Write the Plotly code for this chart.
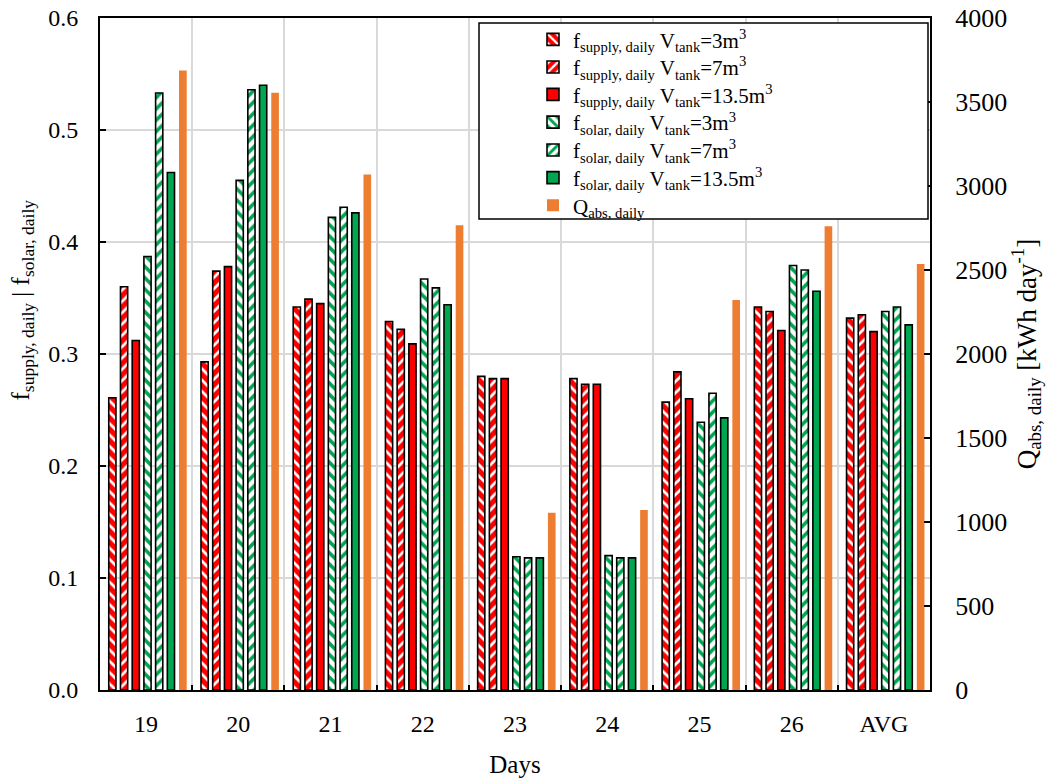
import plotly.graph_objects as go

days = ["19", "20", "21", "22", "23", "24", "25", "26", "AVG"]

f_supply_3 = [0.261, 0.293, 0.342, 0.329, 0.280, 0.278, 0.257, 0.342, 0.332]
f_supply_7 = [0.360, 0.374, 0.349, 0.322, 0.278, 0.273, 0.284, 0.338, 0.335]
f_supply_13 = [0.312, 0.378, 0.345, 0.309, 0.278, 0.273, 0.260, 0.321, 0.320]
f_solar_3 = [0.387, 0.455, 0.422, 0.367, 0.119, 0.120, 0.239, 0.379, 0.338]
f_solar_7 = [0.533, 0.536, 0.431, 0.359, 0.118, 0.118, 0.265, 0.375, 0.342]
f_solar_13 = [0.462, 0.540, 0.426, 0.344, 0.118, 0.118, 0.243, 0.356, 0.326]
q_abs = [3688, 3555, 3068, 2766, 1055, 1071, 2321, 2760, 2536]

names = [
    "f<sub>supply, daily</sub> V<sub>tank</sub>=3m<sup>3</sup>",
    "f<sub>supply, daily</sub> V<sub>tank</sub>=7m<sup>3</sup>",
    "f<sub>supply, daily</sub> V<sub>tank</sub>=13.5m<sup>3</sup>",
    "f<sub>solar, daily</sub> V<sub>tank</sub>=3m<sup>3</sup>",
    "f<sub>solar, daily</sub> V<sub>tank</sub>=7m<sup>3</sup>",
    "f<sub>solar, daily</sub> V<sub>tank</sub>=13.5m<sup>3</sup>",
    "Q<sub>abs, daily</sub>",
]
left_title = "f<sub>supply, daily</sub> | f<sub>solar, daily</sub>"
right_title = "Q<sub>abs, daily</sub> [kWh day<sup>-1</sup>]"
x_title = "Days"

RED = "#FF0000"
GREEN = "#00A650"
ORANGE = "#ED7D31"
FONT = "Liberation Serif"

# plot-area geometry (px) used for paper-coordinate placement
L, R, T, B = 100, 930, 18, 690
PW, PH = R - L, B - T


def px_x(x):
    return (x - L) / PW


def px_y(y):
    return 1 - (y - T) / PH


slot = 0.127
start = -0.405
bw = 0.078

styles = [
    dict(color=RED, pattern=dict(shape="\\", fgcolor="white", bgcolor=RED, size=8, solidity=0.35, fillmode="replace")),
    dict(color=RED, pattern=dict(shape="/", fgcolor="white", bgcolor=RED, size=8, solidity=0.35, fillmode="replace")),
    dict(color=RED),
    dict(color="white", pattern=dict(shape="\\", fgcolor=GREEN, bgcolor="white", size=8, solidity=0.45, fillmode="replace")),
    dict(color="white", pattern=dict(shape="/", fgcolor=GREEN, bgcolor="white", size=8, solidity=0.45, fillmode="replace")),
    dict(color=GREEN),
]
series = [f_supply_3, f_supply_7, f_supply_13, f_solar_3, f_solar_7, f_solar_13]
legend_ids = ["legend"] + ["legend%d" % k for k in range(2, 8)]
row_y = [39.7, 67.3, 94.7, 122.5, 150.3, 178.0, 205.7]

fig = go.Figure()
for i, (vals, st) in enumerate(zip(series, styles)):
    marker = dict(st)
    marker["line"] = dict(color="black", width=1.6)
    fig.add_trace(go.Bar(
        x=days, y=vals, name=names[i], marker=marker,
        offset=start + i * slot, width=bw, yaxis="y", legend=legend_ids[i],
    ))
fig.add_trace(go.Bar(
    x=days, y=q_abs, name=names[6], marker=dict(color=ORANGE, line=dict(width=0)),
    offset=start + 6 * slot, width=0.083, yaxis="y2", legend=legend_ids[6],
))

# legend frame
fig.add_shape(type="rect", xref="paper", yref="paper",
              x0=px_x(479), x1=px_x(928), y0=px_y(219), y1=px_y(23),
              line=dict(color="black", width=1.5), fillcolor="white", layer="above")

# left axis title
fig.add_annotation(text=left_title, xref="paper", yref="paper",
                   x=px_x(22), y=px_y(403), xanchor="center", yanchor="bottom",
                   textangle=-90, showarrow=False,
                   font=dict(family=FONT, size=25, color="black"))

legend_layout = {}
for lid, yy in zip(legend_ids, row_y):
    legend_layout[lid] = dict(
        x=px_x(533), y=px_y(yy), xanchor="left", yanchor="middle",
        bgcolor="rgba(0,0,0,0)", borderwidth=0,
        font=dict(family=FONT, size=21, color="black"),
        itemwidth=30,
    )

fig.update_layout(
    width=1054, height=778,
    margin=dict(l=L, r=1054 - R, t=T, b=778 - B),
    plot_bgcolor="white", paper_bgcolor="white",
    barmode="overlay",
    font=dict(family=FONT, size=24, color="black"),
    showlegend=True,
    xaxis=dict(
        type="category", range=[-0.5, 8.5], automargin=False,
        showline=True, linecolor="black", linewidth=2, mirror=True,
        ticks="inside", tickson="boundaries", ticklen=5, tickwidth=2, tickcolor="black",
        showgrid=True, gridcolor="#d9d9d9", gridwidth=1.5,
        ticklabelstandoff=11,
        title=dict(text=x_title, font=dict(size=25), standoff=22),
        tickfont=dict(size=24),
    ),
    yaxis=dict(
        range=[0, 0.6], dtick=0.1, tickformat=".1f", automargin=False,
        showline=True, linecolor="black", linewidth=2,
        ticks="inside", ticklen=6, tickwidth=2, tickcolor="black",
        showgrid=True, gridcolor="#d9d9d9", gridwidth=1.5,
        zeroline=False,
        ticklabelstandoff=15,
        tickfont=dict(size=24),
    ),
    yaxis2=dict(
        range=[0, 4000], dtick=500, overlaying="y", side="right", automargin=False,
        showline=True, linecolor="black", linewidth=2,
        ticks="inside", ticklen=6, tickwidth=2, tickcolor="black",
        showgrid=False, zeroline=False,
        ticklabelstandoff=18,
        title=dict(text=right_title, font=dict(size=27), standoff=8),
        tickfont=dict(size=26),
    ),
    **legend_layout,
)

fig.write_html("out.html", config={"displayModeBar": False},
               post_script="document.body.style.margin='0';")
